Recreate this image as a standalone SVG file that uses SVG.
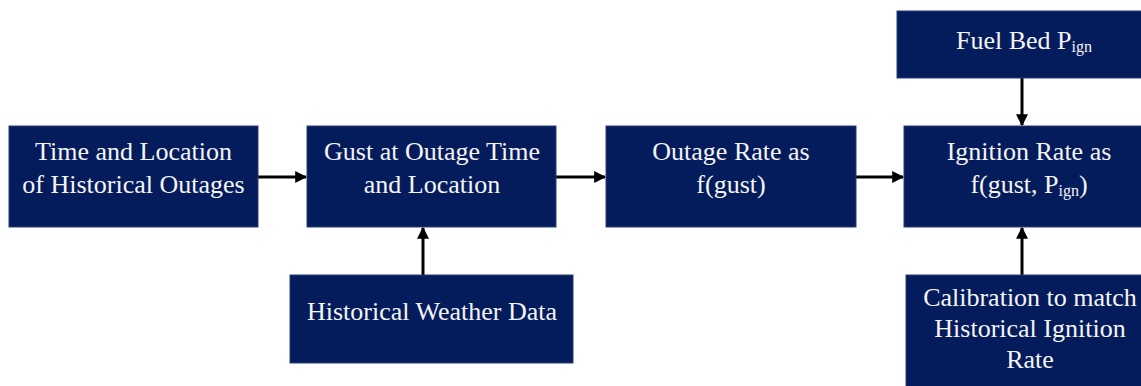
<svg xmlns="http://www.w3.org/2000/svg" width="1141" height="386" viewBox="0 0 1141 386">
<defs>
<style>
.box{fill:#041c5c;stroke:#2a3f78;stroke-width:1}
.t{font-size:26px;fill:#f4f4f4;text-anchor:middle}
.sub{font-size:16px}
.c{stroke:#000;stroke-width:3;fill:none;marker-end:url(#ah)}
</style>
<marker id="ah" viewBox="0 0 10 10" refX="9" refY="5" markerWidth="4" markerHeight="4" orient="auto" markerUnits="strokeWidth">
<path d="M0,0 L10,5 L0,10 z" fill="#000"/>
</marker>
</defs>
<rect width="1141" height="386" fill="#fff"/>
<g id="connectors">
<line class="c" x1="258" y1="177" x2="306" y2="177"/>
<line class="c" x1="556" y1="177" x2="605" y2="177"/>
<line class="c" x1="856" y1="177" x2="903" y2="177"/>
<line class="c" x1="423" y1="275" x2="423" y2="228"/>
<line class="c" x1="1022" y1="78" x2="1022" y2="125"/>
<line class="c" x1="1022" y1="275" x2="1022" y2="228"/>
</g>
<g font-family="'Liberation Serif', 'Times New Roman', 'DejaVu Serif', serif">
<g id="n1">
<rect class="box" x="9" y="126" width="249" height="101"/>
<text class="t" x="133.5" y="160">Time and Location</text>
<text class="t" x="133.5" y="193">of Historical Outages</text>
</g>
<g id="n2">
<rect class="box" x="307" y="126" width="249" height="101"/>
<text class="t" x="432" y="160">Gust at Outage Time</text>
<text class="t" x="432" y="193">and Location</text>
</g>
<g id="n3">
<rect class="box" x="606" y="126" width="250" height="101"/>
<text class="t" x="731" y="160">Outage Rate as</text>
<text class="t" x="731" y="193">f(gust)</text>
</g>
<g id="n4">
<rect class="box" x="904" y="126" width="250" height="101"/>
<text class="t" x="1029" y="160">Ignition Rate as</text>
<text class="t" x="1029" y="193">f(gust, P<tspan class="sub" dy="3">ign</tspan><tspan dy="-3">)</tspan></text>
</g>
<g id="n5">
<rect class="box" x="897" y="11" width="255" height="67"/>
<text class="t" x="1024" y="49">Fuel Bed P<tspan class="sub" dy="3">ign</tspan></text>
</g>
<g id="n6">
<rect class="box" x="290" y="275" width="283" height="88"/>
<text class="t" x="432" y="320">Historical Weather Data</text>
</g>
<g id="n7">
<rect class="box" x="906" y="275" width="250" height="120"/>
<text class="t" x="1030" y="306">Calibration to match</text>
<text class="t" x="1030" y="337">Historical Ignition</text>
<text class="t" x="1030" y="368">Rate</text>
</g>
</g>
</svg>
